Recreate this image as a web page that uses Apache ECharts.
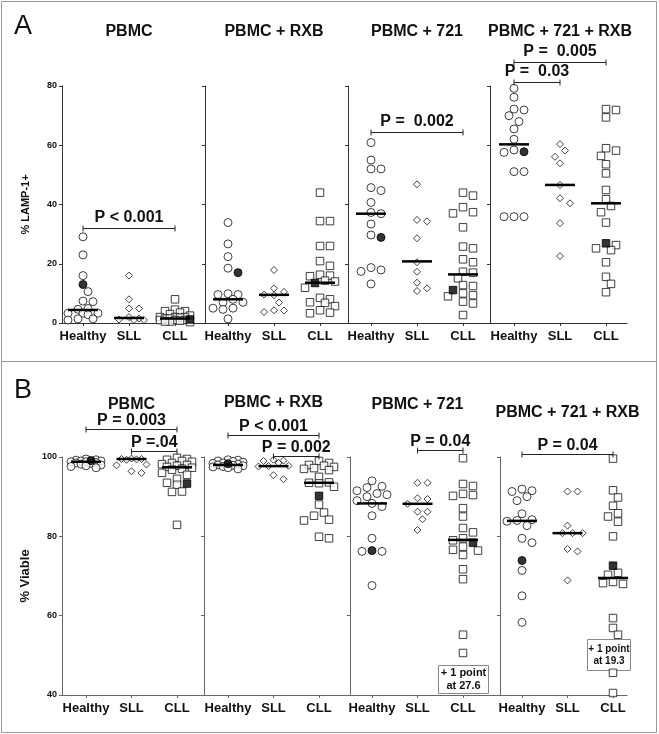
<!DOCTYPE html>
<html>
<head>
<meta charset="utf-8">
<script src="https://cdn.jsdelivr.net/npm/echarts@6/dist/echarts.min.js"></script>
<style>
  html, body { margin: 0; padding: 0; background: #fff; }
  #chart { width: 659px; height: 734px; }
</style>
</head>
<body>
<div id="chart"></div>
<script>
// groups and conditions
var groups = ['Healthy', 'SLL', 'CLL'];
var conditions = ['PBMC', 'PBMC + RXB', 'PBMC + 721', 'PBMC + 721 + RXB'];

// A: % LAMP-1+  (one list per condition)
var lampHealthy = [
  [29.1, 23.0, 16.0, 10.6, 7.2, 7.4, 4.9, 4.6, 3.3, 3.3, 3.3, 2.8, 1.4, 1.0, 1.4],
  [33.9, 26.7, 22.4, 18.5, 9.6, 9.9, 9.6, 8.0, 7.0, 7.0, 5.0, 4.6, 5.0, 1.4],
  [60.9, 55.0, 52.0, 52.0, 45.7, 44.7, 40.7, 37.3, 36.9, 33.4, 29.7, 17.9, 17.4, 18.7, 13.2],
  [79.2, 76.2, 72.2, 71.9, 70.0, 68.0, 65.5, 62.0, 58.4, 57.6, 51.1, 51.1, 35.9, 35.9, 35.9]
];
var lampSll = [
  [16.0, 8.0, 4.9, 4.9, 2.0, 1.5, 1.2, 1.0, 1.0],
  [17.9, 11.7, 10.5, 9.6, 9.4, 6.9, 4.3, 3.7, 4.2],
  [46.8, 34.8, 34.3, 28.6, 20.5, 17.3, 13.6, 10.8, 11.7],
  [60.4, 58.2, 56.1, 53.9, 46.6, 42.1, 40.4, 33.7, 22.6]
];
var lampCll = [
  [8.0, 4.5, 4.0, 4.0, 3.5, 3.0, 2.5, 2.0, 2.0, 2.0, 1.8, 1.5, 1.5, 1.0, 1.0, 1.0, 0.8, 0.5, 0.5, 0.3],
  [44.0, 34.4, 34.4, 26.0, 26.0, 20.9, 19.3, 16.3, 16.0, 15.8, 14.3, 14.0, 11.9, 8.5, 8.0, 7.0, 6.8, 5.7, 4.3, 3.3, 3.5],
  [44.0, 43.0, 39.1, 37.4, 37.0, 32.3, 25.8, 25.2, 21.5, 20.5, 17.3, 17.0, 15.1, 12.8, 12.5, 10.0, 9.4, 9.0, 7.2, 6.6, 2.7],
  [72.2, 71.9, 69.4, 59.0, 58.2, 56.4, 53.6, 50.5, 44.9, 41.8, 39.5, 37.4, 33.9, 26.3, 25.2, 24.6, 20.5, 15.6, 13.2, 10.4]
];
// highlighted (filled) donor / patient
var lampHealthyFilled = [13.0, 17.0, 28.9, 57.8];
var lampCllFilled = [1.2, 13.5, 11.1, 26.9];
var lampMedians = [[4.4, 1.7, 1.5], [8.0, 9.5, 13.6], [36.9, 20.8, 16.4], [60.3, 46.6, 40.4]];

// B: % Viable
var viableHealthy = [
  [99.5, 99.3, 99.2, 99.0, 99.0, 98.8, 98.8, 98.6, 98.5, 98.4, 98.2, 98.0, 97.8, 97.6, 97.3],
  [99.3, 99.2, 99.0, 98.9, 98.7, 98.5, 98.4, 98.2, 98.0, 97.9, 97.8, 97.6, 97.5, 97.3, 97.0],
  [94.0, 92.6, 92.3, 91.5, 90.8, 90.5, 90.0, 89.0, 88.3, 87.5, 85.2, 79.5, 76.2, 76.2, 67.6],
  [91.9, 91.5, 91.3, 90.0, 89.0, 85.7, 84.2, 84.0, 83.8, 82.7, 79.5, 78.4, 71.4, 65.0, 58.3]
];
var viableSll = [
  [99.6, 99.5, 99.5, 99.4, 99.3, 98.1, 97.9, 96.4, 96.0],
  [99.3, 99.1, 99.0, 98.5, 97.8, 97.7, 97.6, 95.4, 94.4],
  [93.5, 93.5, 89.6, 89.4, 88.2, 86.2, 86.2, 84.3, 81.6],
  [91.3, 91.3, 82.7, 80.8, 80.8, 80.8, 76.8, 76.2, 68.9]
];
var viableCll = [
  [99.8, 99.5, 99.3, 99.0, 98.8, 98.5, 98.2, 98.0, 97.8, 97.5, 97.3, 97.0, 96.8, 96.0, 95.5, 94.5, 93.5, 93.0, 91.3, 91.2, 82.9],
  [99.0, 98.5, 98.0, 97.8, 97.5, 97.2, 97.0, 96.7, 95.0, 93.6, 93.5, 93.4, 92.5, 88.0, 86.0, 85.2, 84.2, 84.0, 79.9, 79.5],
  [99.7, 93.2, 92.7, 90.7, 90.4, 90.2, 87.1, 85.0, 82.1, 81.0, 79.5, 79.0, 77.4, 76.6, 76.4, 75.3, 71.7, 69.2, 55.2, 50.6, 27.6],
  [99.6, 91.6, 89.8, 87.7, 85.8, 85.0, 83.7, 80.0, 70.8, 70.3, 69.5, 68.5, 68.2, 68.0, 59.4, 56.9, 55.2, 45.6, 40.5, 19.3]
];
var viableHealthyFilled = [99.1, 98.3, 76.4, 73.9];
var viableCllFilled = [93.3, 90.2, 78.4, 72.6];
var viableMedians = [[98.8, 99.5, 97.4], [98.0, 97.7, 93.5], [88.3, 88.2, 79.1], [83.9, 80.8, 69.5]];

// p values: condition index, groups compared, bracket height (data units)
var lampPValues = [
  {col: 0, from: 1, to: 3, at: 32.1, text: 'P < 0.001'},
  {col: 2, from: 1, to: 3, at: 64.5, text: 'P =  0.002'},
  {col: 3, from: 1, to: 3, at: 88.1, text: 'P =  0.005'},
  {col: 3, from: 1, to: 2, at: 81.4, text: 'P =  0.03'}
];
var viablePValues = [
  {col: 0, from: 1, to: 3, at: 107.0, text: 'P = 0.003'},
  {col: 0, from: 2, to: 3, at: 101.5, text: 'P =.04'},
  {col: 1, from: 1, to: 3, at: 105.5, text: 'P < 0.001'},
  {col: 1, from: 2, to: 3, at: 100.3, text: 'P = 0.002'},
  {col: 2, from: 2, to: 3, at: 101.8, text: 'P = 0.04'},
  {col: 3, from: 1, to: 3, at: 100.8, text: 'P = 0.04'}
];

var FONT = '"Liberation Sans", Arial, sans-serif';

// layout: [left, right, x of first group] per sub plot
var panels = [
  {
    letter: 'A', letterY: 27, top: 86, bottom: 323, min: 0, max: 80, step: 46,
    cols: [[62, 205, 83], [205, 348, 228], [348, 490, 371], [490, 627, 514]],
    titleY: [32, 32, 32, 32], textLift: 11,
    name: '% LAMP-1+', nameSize: 11, nameGap: 31, axisColor: '#333',
    healthy: lampHealthy, sll: lampSll, cll: lampCll,
    hFilled: lampHealthyFilled, cFilled: lampCllFilled, medians: lampMedians, pvals: lampPValues,
    boxes: []
  },
  {
    letter: 'B', letterY: 391, top: 457, bottom: 695, min: 40, max: 100, step: 45.5,
    cols: [[62, 204, 86], [204, 350, 228], [350, 500, 372], [500, 627, 522]],
    titleY: [405, 403, 405, 413], textLift: 9,
    name: '% Viable', nameSize: 13, nameGap: 30, axisColor: '#666',
    healthy: viableHealthy, sll: viableSll, cll: viableCll,
    hFilled: viableHealthyFilled, cFilled: viableCllFilled, medians: viableMedians, pvals: viablePValues,
    boxes: [null, null, {x: 438, y: 665, w: 50, h: 28, size: 11}, {x: 587, y: 639, w: 43, h: 31, size: 10}]
  }
];

// simple beeswarm: horizontal pixel offsets so that markers do not pile up
function swarm(vals, pxPerUnit) {
  var order = vals.map(function (d, i) { return i; })
    .sort(function (a, b) { return vals[b].v - vals[a].v; });
  var placed = [], offs = [];
  order.forEach(function (i) {
    var y = vals[i].v * pxPerUnit, best = 0, bestGap = -1;
    for (var k = 0; k <= 6; k++) {
      var dx = (k % 2 ? 1 : -1) * Math.ceil(k / 2) * 5;
      var gap = Infinity;
      placed.forEach(function (p) { gap = Math.min(gap, Math.hypot(p[0] - dx, p[1] - y)); });
      if (gap >= 8) { best = dx; break; }
      if (gap > bestGap) { bestGap = gap; best = dx; }
    }
    placed.push([best, y]);
    offs[i] = best;
  });
  return offs;
}

var option = {
  animation: false,
  backgroundColor: '#fff',
  grid: [], xAxis: [], yAxis: [], series: [],
  graphic: [
    {type: 'rect', shape: {x: 1.5, y: 1.5, width: 655, height: 731}, style: {fill: 'none', stroke: '#999', lineWidth: 1}, z: 0},
    {type: 'line', shape: {x1: 1.5, y1: 361.5, x2: 656.5, y2: 361.5}, style: {stroke: '#999', lineWidth: 1}, z: 0}
  ]
};

panels.forEach(function (pn) {
  var pxPerUnit = (pn.bottom - pn.top) / (pn.max - pn.min);

  option.graphic.push({
    type: 'text', x: 14, y: pn.letterY,
    style: {text: pn.letter, font: '27px ' + FONT, fill: '#111', verticalAlign: 'middle'}
  });

  pn.cols.forEach(function (c, k) {
    var gi = option.grid.length;
    var left = c[0], right = c[1], first = c[2];

    option.grid.push({left: left, top: pn.top, width: right - left, height: pn.bottom - pn.top, outerBoundsMode: 'none'});

    option.xAxis.push({
      gridIndex: gi, type: 'value',
      min: 1 - (first - left) / pn.step,
      max: 1 + (right - first) / pn.step,
      axisLine: {onZero: false, lineStyle: {color: pn.axisColor, width: 1}},
      axisTick: {show: true, customValues: [1, 2, 3], length: 3, lineStyle: {color: pn.axisColor}},
      axisLabel: {
        customValues: [1, 2, 3],
        formatter: function (v) { return groups[Math.round(v) - 1]; },
        margin: 7, color: '#111', fontFamily: FONT, fontWeight: 'bold', fontSize: 13
      },
      splitLine: {show: false}
    });

    option.yAxis.push({
      gridIndex: gi, type: 'value', min: pn.min, max: pn.max, interval: 20,
      axisLine: {show: true, lineStyle: {color: pn.axisColor, width: 1}},
      axisTick: {show: true, length: 3, lineStyle: {color: pn.axisColor}},
      axisLabel: {show: k === 0, margin: 5, color: '#111', fontFamily: FONT, fontWeight: 'bold', fontSize: 9},
      splitLine: {show: false},
      name: k === 0 ? pn.name : '',
      nameLocation: 'middle', nameRotate: 90, nameGap: pn.nameGap,
      nameTextStyle: {color: '#111', fontFamily: FONT, fontWeight: 'bold', fontSize: pn.nameSize}
    });

    // sub plot title
    option.graphic.push({
      type: 'text', x: first + pn.step, y: pn.titleY[k],
      style: {text: conditions[k], font: 'bold 16px ' + FONT, fill: '#111', align: 'center', verticalAlign: 'middle'}
    });

    // dots for each group
    var sets = [
      {vals: pn.healthy[k], filled: pn.hFilled[k], symbol: 'circle', size: 8},
      {vals: pn.sll[k], filled: null, symbol: 'diamond', size: 7},
      {vals: pn.cll[k], filled: pn.cFilled[k], symbol: 'rect', size: 7.5}
    ];
    var hidden = [];
    sets.forEach(function (s, g) {
      var pts = [];
      s.vals.forEach(function (v) {
        if (v >= pn.min) pts.push({v: v, f: false}); else hidden.push(v);
      });
      if (s.filled != null) pts.push({v: s.filled, f: true});
      var offs = swarm(pts, pxPerUnit);
      option.series.push({
        type: 'scatter', xAxisIndex: gi, yAxisIndex: gi, z: 3,
        symbol: s.symbol, symbolSize: s.size,
        itemStyle: {color: '#fff', borderColor: '#111', borderWidth: 1},
        emphasis: {disabled: true},
        data: pts.map(function (d, i) {
          var item = {value: [g + 1 + offs[i] / pn.step, d.v]};
          if (d.f) item.itemStyle = {color: '#000', borderColor: '#000'};
          return item;
        })
      });
    });

    // medians
    option.series.push({
      type: 'custom', xAxisIndex: gi, yAxisIndex: gi, z: 4,
      data: pn.medians[k].map(function (m, i) { return [i + 1, m]; }),
      renderItem: function (params, api) {
        var p = api.coord([api.value(0), api.value(1)]);
        return {type: 'line', shape: {x1: p[0] - 15, y1: p[1], x2: p[0] + 15, y2: p[1]},
          style: {stroke: '#000', lineWidth: 2.5}};
      }
    });

    // p value brackets
    var bl = pn.pvals.filter(function (b) { return b.col === k; });
    var lift = pn.textLift;
    if (bl.length) {
      option.series.push({
        type: 'custom', xAxisIndex: gi, yAxisIndex: gi, z: 5, clip: false,
        encode: {x: [0, 1], y: 2},
        data: bl.map(function (b) { return [b.from, b.to, b.at]; }),
        renderItem: function (params, api) {
          var b = bl[params.dataIndex];
          var a = api.coord([api.value(0), api.value(2)]);
          var e = api.coord([api.value(1), api.value(2)]);
          var y = Math.round(a[1]) + 0.5;
          var ls = {stroke: '#222', lineWidth: 1};
          return {type: 'group', children: [
            {type: 'line', shape: {x1: a[0], y1: y, x2: e[0], y2: y}, style: ls},
            {type: 'line', shape: {x1: a[0], y1: y - 3, x2: a[0], y2: y + 3}, style: ls},
            {type: 'line', shape: {x1: e[0], y1: y - 3, x2: e[0], y2: y + 3}, style: ls},
            {type: 'text', x: (a[0] + e[0]) / 2, y: y - lift,
              style: {text: b.text, font: 'bold 16px ' + FONT, fill: '#111', align: 'center', verticalAlign: 'middle'}}
          ]};
        }
      });
    }

    // note for points below the axis
    var box = pn.boxes[k];
    if (box && hidden.length) {
      option.graphic.push({
        type: 'group', z: 10, children: [
          {type: 'rect', shape: {x: box.x + 0.5, y: box.y + 0.5, width: box.w, height: box.h},
            style: {fill: '#fff', stroke: '#888', lineWidth: 1}},
          {type: 'text', x: box.x + box.w / 2 + 0.5, y: box.y + box.h / 2 + 0.5,
            style: {text: '+ ' + hidden.length + ' point\nat ' + hidden[0].toFixed(1),
              font: 'bold ' + box.size + 'px ' + FONT, lineHeight: box.size + 1.5,
              fill: '#111', align: 'center', verticalAlign: 'middle'}}
        ]
      });
    }
  });
});

var chart = echarts.init(document.getElementById('chart'));
chart.setOption(option);
</script>
</body>
</html>
